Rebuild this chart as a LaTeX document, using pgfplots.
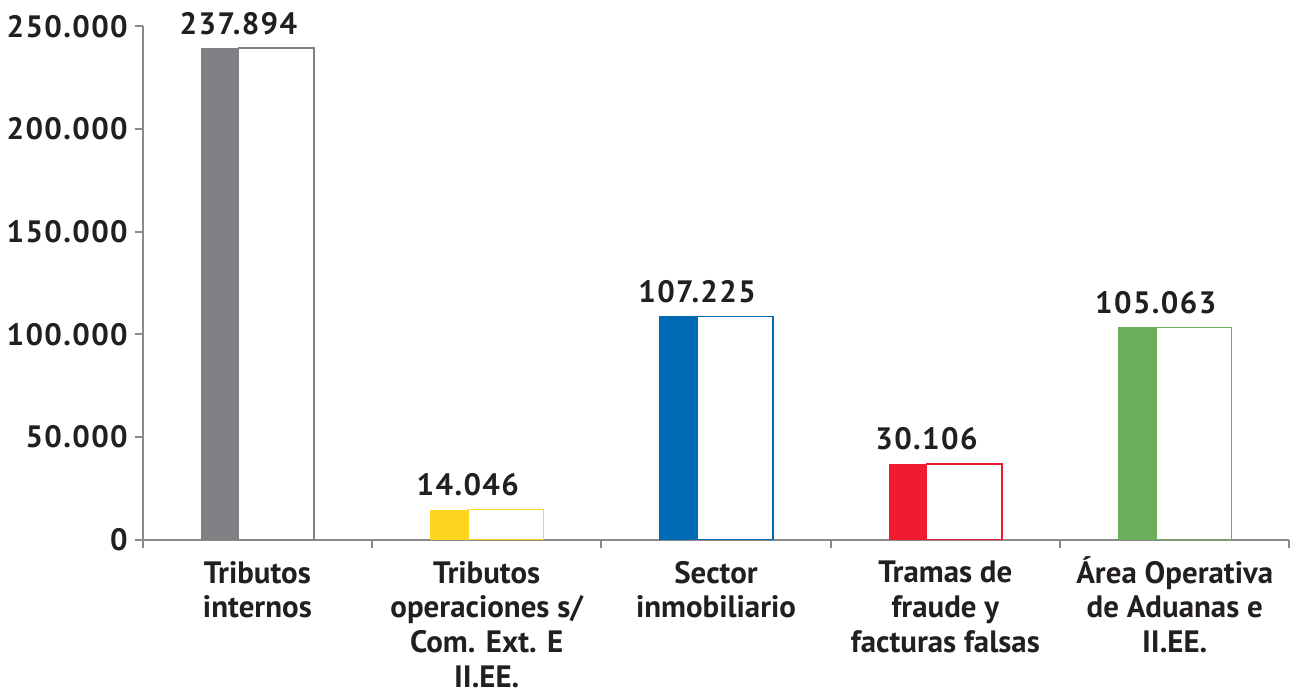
\documentclass[border=0pt]{standalone}
\usepackage{fontspec}
\setmainfont{PT Sans}
\usepackage{pgfplots}
\pgfplotsset{compat=1.18}
\definecolor{cgray}{HTML}{808184}
\definecolor{cyellow}{HTML}{FFD520}
\definecolor{cblue}{HTML}{006AB6}
\definecolor{cred}{HTML}{EE1C2E}
\definecolor{cgreen}{HTML}{6AAD5B}
\definecolor{axgray}{HTML}{8A8A8A}
\definecolor{txt}{HTML}{231F20}
\newcommand\numfont{\addfontfeatures{LetterSpace=4.5}}
\pgfplotsset{
  filled/.style={ybar, bar width=0.165, bar shift=-0.165, fill=#1, draw=none},
  hollow/.style={ybar, bar width=0.33, bar shift=0.0826, fill=white, draw=#1, line width=0.75bp,
    point meta=explicit symbolic, nodes near coords={\numfont\pgfplotspointmeta},
    nodes near coords style={anchor=south, inner sep=0pt, yshift=6.5bp, xshift=-9.5bp, text=txt}},
}
\begin{document}
\begin{tikzpicture}[font=\bfseries\fontsize{15.5bp}{17.4bp}\selectfont]
\begin{axis}[
    scale only axis,
    width=575bp, height=257.5bp,
    xmin=-0.5, xmax=4.5, ymin=0, ymax=250000,
    axis lines*=left,
    axis line style={draw=axgray, line width=1bp},
    tick style={draw=axgray, line width=1bp},
    tick align=outside,
    major tick length=4bp,
    scaled y ticks=false,
    ytick={0,50000,100000,150000,200000,250000},
    yticklabels={0,50.000,100.000,150.000,200.000,250.000},
    yticklabel style={font=\bfseries\fontsize{15.5bp}{16.8bp}\selectfont\numfont, inner ysep=7.5bp},
    ticklabel style={text=txt},
    xtick={-0.5,0.5,1.5,2.5,3.5,4.5},
    xticklabels={,,,,,},
    extra x ticks={0,1,2,3,4},
    extra x tick labels={Tributos\\internos, Tributos\\operaciones s/\\Com. Ext. E\\II.EE., Sector\\inmobiliario, Tramas de\\fraude y\\facturas falsas, \smash{Á}rea Operativa\vphantom{b}\\de Aduanas e\\II.EE.},
    extra x tick style={major tick length=0pt, xticklabel style={align=center, anchor=north, inner xsep=0pt, inner ysep=2.5bp, yshift=-8bp}},
    clip=false,
]
\addplot[hollow=cgray] coordinates {(0,239300) [237.894]};
\addplot[filled=cgray] coordinates {(0,239300)};
\addplot[hollow=cyellow] coordinates {(1,14600) [14.046]};
\addplot[filled=cyellow] coordinates {(1,14600)};
\addplot[hollow=cblue] coordinates {(2,108700) [107.225]};
\addplot[filled=cblue] coordinates {(2,108700)};
\addplot[hollow=cred] coordinates {(3,36900) [30.106]};
\addplot[filled=cred] coordinates {(3,36900)};
\addplot[hollow=cgreen] coordinates {(4,103400) [105.063]};
\addplot[filled=cgreen] coordinates {(4,103400)};
\end{axis}
\end{tikzpicture}
\end{document}
